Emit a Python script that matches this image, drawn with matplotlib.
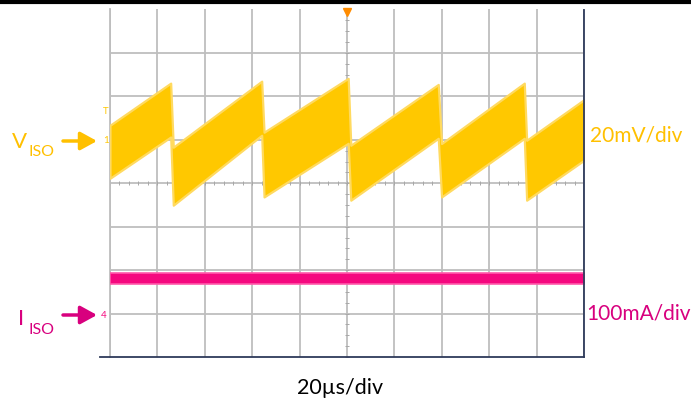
import numpy as np
import matplotlib
matplotlib.use("Agg")
import matplotlib.pyplot as plt
from matplotlib.patches import FancyArrowPatch
from matplotlib.lines import Line2D

plt.rcParams['font.family'] = ['Lato', 'DejaVu Sans']

# scope settings
V_SCALE = 20.0     # mV/div
I_SCALE = 100.0    # mA/div
V_OFFSET = 1.0     # div, channel 1 ground marker
I_OFFSET = -3.0    # div, channel 4 ground marker

# V_ISO ripple envelope (us, mV rel. to ch1 marker): start/end of each ramp
v_t   = [0.0, 25.6, 26.7, 64.0, 65.0, 100.5, 101.6, 138.5, 139.9, 174.8, 175.8, 200.0]
v_top = [6.7, 26.1, -3.4, 27.0, 3.5, 28.3, -2.5, 25.5, -1.7, 26.1, -0.2, 18.5]
v_bot = [-17.7, 1.3, -30.1, 2.1, -26.3, -1.6, -27.8, 0.7, -26.3, 0.7, -27.8, -9.4]

# I_ISO band (mA rel. to ch4 marker)
i_t   = [0.0, 200.0]
i_top = [93.0, 93.0]
i_bot = [68.0, 68.0]

orange = '#FFC800'
orange_txt = '#FFC000'
magenta = '#F5087F'
magenta_txt = '#D8007E'
navy = '#2E3A5A'
gridc = '#BEBEBE'

W, H = 691, 401
fig = plt.figure(figsize=(W / 100, H / 100), dpi=100)

def px(x, y):
    return (x / W, 1 - y / H)

x0, x1, ytop, ybot = 110, 584, 9.5, 357
ax = fig.add_axes([x0 / W, 1 - ybot / H, (x1 - x0) / W, (ybot - ytop) / H])
ax.set_xlim(0, 200)
ax.set_ylim(-4, 4)
ax.set_xticks(np.arange(0, 201, 20))
ax.set_yticks(np.arange(-3, 4, 1))
ax.grid(True, color=gridc, lw=1.3)
ax.set_axisbelow(True)
ax.tick_params(length=0, labelbottom=False, labelleft=False)
for s in ['top', 'right', 'bottom']:
    ax.spines[s].set_visible(False)
ax.spines['left'].set_color(gridc)
ax.spines['left'].set_linewidth(1.3)

# minor ticks on the centre lines
ax.plot(np.arange(0, 200, 4), np.zeros(50), ls='none', marker='|', ms=3, color='#A8A8A8', mew=0.7)
ax.plot(np.full(32, 100), np.arange(-4, 4, 0.25), ls='none', marker='_', ms=2.5, color='#A8A8A8', mew=0.7)

# traces
vt = np.array(v_t)
ax.fill_between(vt, V_OFFSET + np.array(v_top) / V_SCALE, V_OFFSET + np.array(v_bot) / V_SCALE,
                color=orange, lw=1.6, edgecolor='#FFDA60', zorder=3)
ax.fill_between(i_t, I_OFFSET + np.array(i_top) / I_SCALE, I_OFFSET + np.array(i_bot) / I_SCALE,
                color=magenta, lw=1.2, edgecolor='#FF5AAB', zorder=3)

# frame lines
fig.add_artist(Line2D([px(100, 0)[0], px(x1, 0)[0]], [px(0, ybot)[1]] * 2, color=navy, lw=1.3))
fig.add_artist(Line2D([px(x1, 0)[0]] * 2, [px(0, ybot)[1], px(0, 10)[1]], color=navy, lw=1.3))
fig.add_artist(Line2D([0, 1], [px(0, 1.5)[1]] * 2, color='black', lw=3))

# trigger marker
fig.add_artist(Line2D([px(347, 0)[0]], [px(0, 11.5)[1]], marker='v', ms=6, color='#FF8C00', ls='none'))

# channel markers
fig.text(*px(103, 114), 'T', color=orange, fontsize=7, va='baseline')
fig.text(*px(103, 143), '1', color=orange, fontsize=7, va='baseline')
fig.text(*px(101, 318), '4', color=magenta, fontsize=7, va='baseline')

# labels
fig.text(*px(12, 148), 'V', color=orange_txt, fontsize=16, va='baseline')
fig.text(*px(28, 156), 'ISO', color=orange_txt, fontsize=11.5, va='baseline')
fig.text(*px(18, 325), 'I', color=magenta_txt, fontsize=16, va='baseline')
fig.text(*px(28, 334), 'ISO', color=magenta_txt, fontsize=11.5, va='baseline')

for y, c in [(141, orange_txt), (315, magenta_txt)]:
    fig.add_artist(FancyArrowPatch(px(63, y), px(97, y), transform=fig.transFigure,
                                   arrowstyle='-|>,head_length=10,head_width=5.5',
                                   mutation_scale=1, lw=2.5, color=c, shrinkA=0, shrinkB=0))

fig.text(*px(590, 142), '20mV/div', color=orange_txt, fontsize=15, va='baseline')
fig.text(*px(586, 320), '100mA/div', color=magenta_txt, fontsize=15, va='baseline',
         bbox=dict(facecolor='white', edgecolor='none', pad=1))
fig.text(*px(340, 394), '20\u00b5s/div', color='black', fontsize=15.5, va='baseline', ha='center')

fig.savefig('out.png', dpi=100, facecolor='white')
